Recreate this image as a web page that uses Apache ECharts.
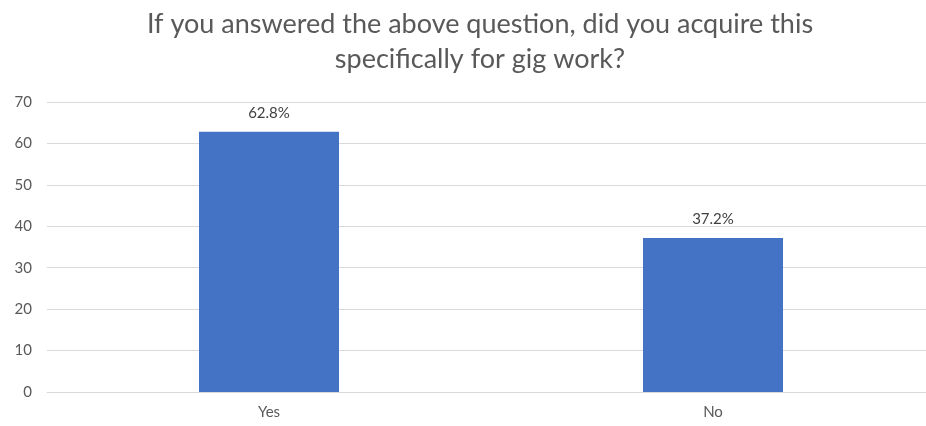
<!DOCTYPE html>
<html>
<head>
<meta charset="utf-8">
<script src="https://cdn.jsdelivr.net/npm/echarts@6/dist/echarts.min.js"></script>
<style>
html, body { margin: 0; padding: 0; background: #fff; }
#chart { width: 926px; height: 426px; }
</style>
</head>
<body>
<div id="chart"></div>
<script>
// chart data
const categories = ['Yes', 'No'];
const percentValues = [62.8, 37.2];
const yTicks = { min: 0, max: 70, interval: 10 };
const titleText = 'If you answered the above question, did you acquire this\nspecifically for gig work?';

const chart = echarts.init(document.getElementById('chart'));

chart.setOption({
    animation: false,
    textStyle: { fontFamily: 'Lato' },
    title: {
        text: titleText,
        left: 475,
        textAlign: 'center',
        top: 2,
        textStyle: {
            fontFamily: 'Lato',
            fontSize: 27,
            fontWeight: 'normal',
            color: '#595959',
            lineHeight: 35
        }
    },
    grid: {
        left: 47,
        width: 888,
        top: 102,
        bottom: 34,
        containLabel: false,
        outerBoundsMode: 'none'
    },
    xAxis: {
        type: 'category',
        data: categories,
        axisLine: { show: true, lineStyle: { color: '#d9d9d9', width: 1 } },
        axisTick: { show: false },
        axisLabel: { color: '#595959', fontSize: 15, margin: 13 }
    },
    yAxis: {
        type: 'value',
        min: yTicks.min,
        max: yTicks.max,
        interval: yTicks.interval,
        axisLine: { show: false },
        axisTick: { show: false },
        axisLabel: { color: '#595959', fontSize: 15, margin: 15 },
        splitLine: { lineStyle: { color: '#d9d9d9', width: 1 } }
    },
    series: [
        {
            type: 'bar',
            data: percentValues,
            barWidth: 140,
            itemStyle: { color: '#4472c4' },
            label: {
                show: true,
                position: 'top',
                distance: 11,
                color: '#404040',
                fontSize: 15,
                formatter: p => p.value.toFixed(1) + '%'
            }
        }
    ]
});
</script>
</body>
</html>
